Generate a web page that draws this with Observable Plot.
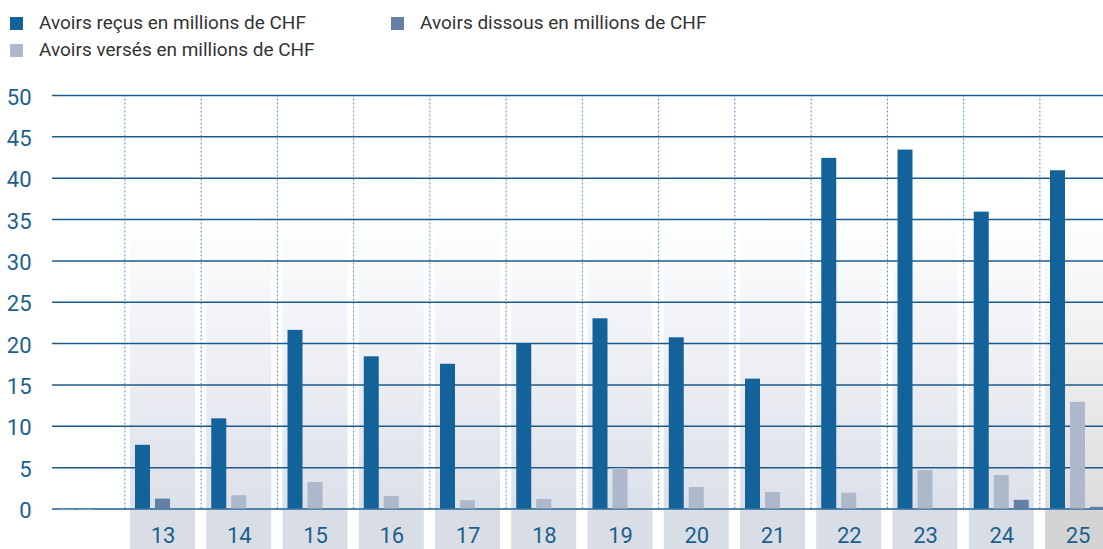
<!DOCTYPE html>
<html><head><meta charset="utf-8">
<script src="https://cdn.jsdelivr.net/npm/d3@7"></script>
<script src="https://cdn.jsdelivr.net/npm/@observablehq/plot@0.6"></script>
<style>
body{margin:0;background:#fff;font-family:Roboto, "Noto Sans", sans-serif;}
#legend{position:relative;height:62px;width:1103px;}
.item{position:absolute;font-size:19px;color:#333;white-space:nowrap;line-height:1;}
.sw{position:absolute;width:13px;height:13px;}
#chart svg{display:block;overflow:hidden;}
</style></head><body>
<div id="legend"></div><div id="chart"></div>
<script>
// ---- data ----
const years   = ["", "13", "14", "15", "16", "17", "18", "19", "20", "21", "22", "23", "24", "25"];
const recus   = [0, 7.7, 10.9, 21.6, 18.4, 17.5, 20.0, 23.0, 20.7, 15.7, 42.4, 43.4, 35.9, 40.9];
const verses  = [0, 0, 1.6, 3.2, 1.5, 1.0, 1.15, 4.9, 2.6, 2.0, 1.9, 4.65, 4.05, 12.9];
const dissous = [0, 1.2, 0, 0, 0, 0, 0, 0, 0, 0, 0, 0, 1.05, 0.2];
const stubs   = [0.2, 0.2]; // tiny marks under the axis in the first (unlabelled) column
const yTicks  = [0, 5, 10, 15, 20, 25, 30, 35, 40, 45, 50];
const seriesNames = ["Avoirs reçus en millions de CHF", "Avoirs versés en millions de CHF", "Avoirs dissous en millions de CHF"];
const seriesColors = ["#14629a", "#adb8cb", "#6580a6"];

// ---- legend ----
const legendItems = [
  {name: seriesNames[0], color: seriesColors[0], left: 10, top: 13},
  {name: seriesNames[2], color: seriesColors[2], left: 391, top: 13},
  {name: seriesNames[1], color: seriesColors[1], left: 10, top: 40}
];
const lg = document.getElementById("legend");
legendItems.forEach(it => {
  const sw = document.createElement("div");
  sw.className = "sw"; sw.style.background = it.color;
  sw.style.left = it.left + "px"; sw.style.top = (it.top + 4) + "px";
  lg.appendChild(sw);
  const t = document.createElement("div");
  t.className = "item"; t.textContent = it.name;
  t.style.left = (it.left + 29) + "px"; t.style.top = it.top + "px";
  lg.appendChild(t);
});

// ---- derived tables ----
const seriesVals = [recus, verses, dissous];
const cols = years.map((label, i) => ({i, label, last: i === years.length - 1}));
const labelled = cols.filter(d => d.i > 0);
const bars = [];
years.forEach((y, i) => {
  let k = 0;
  seriesVals.forEach((vals, s) => {
    const v = vals[i];
    if (v > 0) { bars.push({i, k, v, series: seriesNames[s]}); k++; }
  });
});
const stubData = stubs.map((v, k) => ({i: 0, k, v}));

const step = 76.25, px = 1 / step;
const bx1 = d => d.i + ((d.k - 1) * 20 - 7.5) * px;
const bx2 = d => d.i + ((d.k - 1) * 20 + 7.5) * px;

const defs = () => {
  const g = d3.create("svg:defs");
  const mk = (id, c0, c1) => {
    const lgr = g.append("linearGradient").attr("id", id).attr("x1", 0).attr("y1", 0).attr("x2", 0).attr("y2", 1);
    lgr.append("stop").attr("offset", "0%").attr("stop-color", c0);
    lgr.append("stop").attr("offset", "100%").attr("stop-color", c1);
  };
  mk("gBlue", "#ffffff", "#dce0e9");
  mk("gGrey", "#ffffff", "#dddddd");
  return g.node();
};

const chart = Plot.plot({
  width: 1103, height: 487,
  marginTop: 33, marginBottom: 40.5, marginLeft: 52, marginRight: 0,
  style: {fontFamily: "Roboto, 'Noto Sans', sans-serif", background: "#fff"},
  x: {domain: [-0.5, 13.5], range: [48.125, 1115.625], axis: null},
  y: {domain: [0, 50], axis: null},
  color: {domain: seriesNames, range: seriesColors},
  marks: [
    defs,
    Plot.rectY(labelled.filter(d => !d.last), {x1: d => d.i - 32.5 * px, x2: d => d.i + 32.5 * px, y1: 0, y2: 36, fill: "url(#gBlue)"}),
    Plot.rectY(labelled.filter(d => d.last), {x1: d => d.i - 32.5 * px, x2: d => d.i + 32.5 * px, y1: 0, y2: 36, fill: "url(#gGrey)"}),
    Plot.rectY(labelled, {x1: d => d.i - 32.5 * px, x2: d => d.i + 32.5 * px, y1: 0, y2: -6, fill: d => d.last ? "#d4d4d4" : "#d9dee6", insetTop: 1.5}),
    Plot.ruleX(cols.slice(0, -1), {x: d => d.i + 0.5, y1: 0, y2: 50, stroke: "#4a8fc7", strokeWidth: 1, strokeDasharray: "2,2"}),
    Plot.gridY({ticks: yTicks, stroke: "#1b5b8b", strokeOpacity: 1, strokeWidth: 1.5}),
    Plot.rectY(bars, {x1: bx1, x2: bx2, y1: 0, y2: "v", fill: "series"}),
    Plot.rectY(stubData, {x1: bx1, x2: bx2, y1: 0, y2: d => -d.v, fill: "#8fa9c9", insetTop: 0.8}),
    Plot.axisY({ticks: yTicks, tickSize: 0, tickPadding: 21, fontSize: 22, fill: "#1c5f8e", dy: 2, label: null}),
    Plot.text(labelled, {x: "i", y: 0, text: "label", dy: 27, fontSize: 22, fill: "#1c5f8e"})
  ]
});
document.getElementById("chart").appendChild(chart);
</script>
</body></html>
